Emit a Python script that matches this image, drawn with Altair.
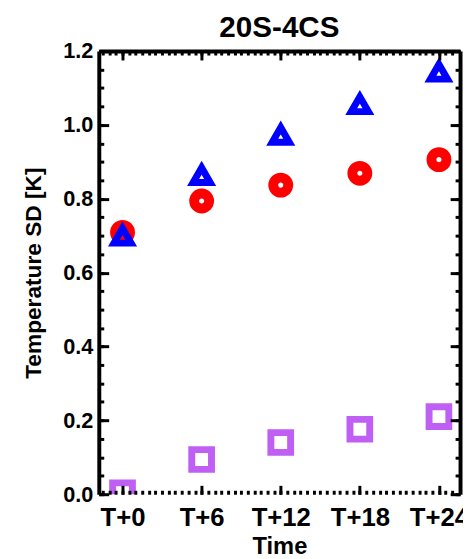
import altair as alt
import pandas as pd

hours = [0, 6, 12, 18, 24]
tick_labels = ["T+0", "T+6", "T+12", "T+18", "T+24"]
blue_vals = [0.70, 0.864, 0.973, 1.056, 1.144]
red_vals = [0.709, 0.794, 0.837, 0.869, 0.906]
purple_vals = [0.004, 0.094, 0.140, 0.176, 0.210]

df = pd.DataFrame({
    "hour": hours * 3,
    "sd": blue_vals + red_vals + purple_vals,
    "series": ["blue"] * 5 + ["red"] * 5 + ["purple"] * 5,
})

FONT = "Liberation Sans"
XDOM = [-1.8, 25.6]
YDOM = [0, 1.2]
y_major = [round(0.2 * i, 2) for i in range(7)]
y_minor = [round(0.05 * i, 2) for i in range(25)]
x_major = hours
x_minor = [0.5 * i for i in range(-3, 51)]

label_expr = " : ".join(
    f"datum.value == {h} ? '{t}'" for h, t in zip(hours[:-1], tick_labels[:-1])
) + f" : '{tick_labels[-1]}'"

xs = alt.Scale(domain=XDOM, nice=False, zero=False)
ys = alt.Scale(domain=YDOM, nice=False, zero=False)


def tick_axis(orient, values, size):
    return alt.Axis(orient=orient, values=values, tickSize=size, offset=-size, domain=False,
                    grid=False, labels=False, ticks=True, tickColor="#000000", tickWidth=3,
                    tickOpacity=1, title="", zindex=1)


def domain_axis(orient):
    return alt.Axis(orient=orient, domain=True, domainColor="#000000", domainWidth=4,
                    domainOpacity=1, ticks=False, labels=False, grid=False, title="", zindex=1)


base = alt.Chart(df)

red = base.transform_filter(alt.datum.series == "red").mark_point(
    shape="circle", size=230, strokeWidth=10, color="#FF0000", filled=False, opacity=1
).encode(
    x=alt.X("hour:Q", scale=xs, axis=tick_axis("bottom", x_minor, 4)),
    y=alt.Y("sd:Q", scale=ys, axis=tick_axis("left", y_minor, 5)),
)

blue = base.transform_filter(alt.datum.series == "blue").mark_point(
    shape="triangle-up", size=300, strokeWidth=7, color="#0000FF", filled=False, opacity=1
).encode(
    x=alt.X("hour:Q", scale=xs, axis=alt.Axis(
        orient="bottom", values=x_major, tickSize=9, offset=-9, domain=False, grid=False,
        ticks=True, tickColor="#000000", tickWidth=3, tickOpacity=1, zindex=1,
        labelExpr=label_expr, labelFont=FONT, labelFontSize=26, labelBaseline="alphabetic",
        labelFontWeight="bold", labelColor="black", labelPadding=32, labelFlush=False,
        title="Time", titleFont=FONT, titleFontSize=24, titleFontWeight="bold",
        titleColor="black", titleBaseline="alphabetic", titleY=69)),
    y=alt.Y("sd:Q", scale=ys, axis=alt.Axis(
        orient="left", values=y_major, tickSize=10, offset=-10, domain=False, grid=False,
        ticks=True, tickColor="#000000", tickWidth=3, tickOpacity=1, zindex=1,
        format=".1f", labelFont=FONT, labelFontSize=22,
        labelFontWeight="bold", labelColor="black", labelPadding=6,
        title="Temperature SD [K]", titleFont=FONT, titleFontSize=23, titleFontWeight="bold",
        titleColor="black", titlePadding=17)),
)

purple = base.transform_filter(alt.datum.series == "purple").mark_point(
    shape="square", size=400, strokeWidth=7, color="#BF5FF4", filled=False, opacity=1, clip=True
).encode(
    x=alt.X("hour:Q", scale=xs, axis=tick_axis("top", x_major, 9)),
    y=alt.Y("sd:Q", scale=ys, axis=tick_axis("right", y_major, 10)),
)

inv1 = base.mark_point(opacity=0).encode(
    x=alt.X("hour:Q", scale=xs, axis=tick_axis("top", x_minor, 4)),
    y=alt.Y("sd:Q", scale=ys, axis=tick_axis("right", y_minor, 5)),
)

inv2 = base.mark_point(opacity=0).encode(
    x=alt.X("hour:Q", scale=xs, axis=domain_axis("top")),
    y=alt.Y("sd:Q", scale=ys, axis=domain_axis("left")),
)

inv3 = base.mark_point(opacity=0).encode(
    x=alt.X("hour:Q", scale=xs, axis=None),
    y=alt.Y("sd:Q", scale=ys, axis=domain_axis("right")),
)

chart = alt.layer(inv2, inv3, inv1, red, blue, purple).resolve_scale(
    x="shared", y="shared"
).resolve_axis(
    x="independent", y="independent"
).properties(
    width=366,
    height=449,
    title=alt.TitleParams("20S-4CS", font=FONT, fontSize=30, fontWeight="bold", color="black",
                          anchor="middle", offset=-3),
    autosize=alt.AutoSizeParams(type="none"),
    padding={"left": 92, "top": 40, "right": 3, "bottom": 62},
).configure(background="white").configure_view(stroke=None)

chart.save("out.html", embed_options={"renderer": "svg", "actions": False})
